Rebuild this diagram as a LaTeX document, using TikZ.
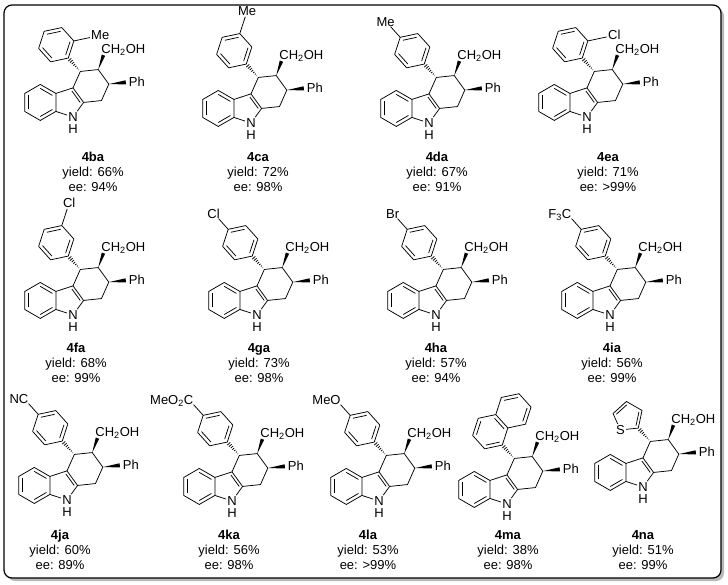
\documentclass[tikz,border=0pt]{standalone}
\usepackage{fontspec}
\setmainfont{Liberation Sans}
\usetikzlibrary{calc}

\tikzset{
  atom/.style={font=\fontsize{13}{15}\selectfont, inner sep=1pt},
  capt/.style={font=\fontsize{13}{15}\selectfont, align=center}
}

\newcommand{\dbl}[3]{\draw ($(#1)!0.22!(#3)$) -- ($(#2)!0.22!(#3)$);}
\newcommand{\wdg}[2]{\fill (#1) -- ($(#2)!0.12!90:(#1)$) -- ($(#2)!0.12!-90:(#1)$) -- cycle;}
\newcommand{\hsh}[2]{\foreach \hs in {1,...,7}{%
  \coordinate (hp) at ($(#1)!\hs/8!(#2)$);
  \draw ($(hp)!{0.13*\hs/(8-\hs)}!90:(#2)$) -- ($(hp)!{0.13*\hs/(8-\hs)}!-90:(#2)$);}}

\newcommand{\core}{%
  \coordinate (b1) at (-1.817,1.809);
  \coordinate (b2) at (-0.951,1.309);
  \coordinate (b3) at (-0.951,0.309);
  \coordinate (b4) at (-1.817,-0.191);
  \coordinate (b5) at (-2.683,0.309);
  \coordinate (b6) at (-2.683,1.309);
  \coordinate (bc) at (-1.817,0.809);
  \coordinate (pc) at (-0.263,0.809);
  \coordinate (c9a) at (0.588,0.809);
  \coordinate (c4a) at (0,1.618);
  \coordinate (c1) at (1.583,0.914);
  \coordinate (c2) at (1.989,1.827);
  \coordinate (c3) at (1.402,2.636);
  \coordinate (c4) at (0.407,2.531);
  \node[atom] (n) at (0,0) {N};
  \node[atom] (h) at (0,-0.68) {H};
  \draw (b1) -- (b2) -- (b3) -- (b4) -- (b5) -- (b6) -- cycle;
  \draw (c4a) -- (c4) -- (c3) -- (c2) -- (c1) -- (c9a) -- cycle;
  \draw (b2) -- (c4a);
  \draw (b3) -- (n) -- (c9a);
  \dbl{b1}{b2}{bc}\dbl{b3}{b4}{bc}\dbl{b5}{b6}{bc}\dbl{c4a}{c9a}{pc}
  \coordinate (we) at ($(c3)+(70:0.85)$);
  \wdg{c3}{we}
  \node[atom,anchor=base west,inner sep=0pt,xshift=-4.7pt,yshift=-4.6pt] (oh) at ($(c3)+(70:1.22)$) {CH\textsubscript{2}OH};
  \coordinate (pw) at ($(c2)+(6:0.95)$);
  \wdg{c2}{pw}
  \node[atom,anchor=base west,inner sep=0pt,yshift=-4.6pt] (ph) at ($(c2)+(6:1.1)$) {Ph};}

\newcommand{\aryl}{%
  \coordinate (ac) at ($(c4)+(132:2)$);
  \foreach \i/\ang in {1/312,2/12,3/72,4/132,5/192,6/252}{\coordinate (a\i) at ($(ac)+(\ang:1)$);}
  \draw (a1) -- (a2) -- (a3) -- (a4) -- (a5) -- (a6) -- cycle;
  \dbl{a1}{a2}{ac}\dbl{a3}{a4}{ac}\dbl{a5}{a6}{ac}
  \hsh{c4}{a1}}

\newcommand{\naph}{%
  \coordinate (ac) at ($(c4)+(132:2)$);
  \coordinate (nc) at ($(ac)+(42:1.732)$);
  \foreach \i/\ang in {1/312,2/12,3/72,4/132,5/192,6/252}{\coordinate (a\i) at ($(ac)+(\ang:1)$);}
  \foreach \i/\ang in {1/312,2/12,3/72,4/132}{\coordinate (e\i) at ($(nc)+(\ang:1)$);}
  \draw (a1) -- (a2) -- (a3) -- (a4) -- (a5) -- (a6) -- cycle;
  \draw (a2) -- (e1) -- (e2) -- (e3) -- (e4) -- (a3);
  \dbl{a6}{a1}{ac}\dbl{a4}{a5}{ac}\dbl{a2}{a3}{ac}\dbl{e1}{e2}{nc}\dbl{e3}{e4}{nc}
  \hsh{c4}{a1}}

\newcommand{\thio}{%
  \coordinate (t2) at ($(c4)+(132:1)$);
  \coordinate (tc) at ($(t2)+(132:0.851)$);
  \foreach \i/\ang in {3/24,4/96,5/168}{\coordinate (t\i) at ($(tc)+(\ang:0.851)$);}
  \node[atom] (s) at ($(tc)+(240:0.851)$) {S};
  \draw (s) -- (t2) -- (t3) -- (t4) -- (t5) -- (s);
  \dbl{t2}{t3}{tc}\dbl{t4}{t5}{tc}
  \hsh{c4}{t2}}

\newcommand{\orthosub}[1]{\node[atom] (sub) at ($(a2)+(12:1.5)$) {#1}; \draw (a2) -- (sub);}
\newcommand{\metasub}[1]{\node[atom] (sub) at ($(a3)+(72:1.33)$) {#1}; \draw (a3) -- (sub);}
\newcommand{\parasub}[2]{\coordinate (pe) at ($(a4)+(132:0.8)$);
  \node[atom,anchor=base east,inner sep=0pt,xshift=#2,yshift=-4.6pt] (sub) at ($(a4)+(132:1.18)$) {#1};
  \draw (a4) -- (pe);}

\begin{document}
\begin{tikzpicture}[x=1pt,y=-1pt,line width=0.75pt,line join=round]
\useasboundingbox (0,0) rectangle (728,584);
\fill[gray!55,rounded corners=8pt] (7,8) rectangle (724,581);
\draw[line width=1.2pt,fill=white,rounded corners=8pt] (4,5) rectangle (721,578);

\begin{scope}[shift={(73,117)},x=18pt,y=18pt]
  \core \aryl \orthosub{Me}
\end{scope}
\begin{scope}[shift={(251,123)},x=18pt,y=18pt]
  \core \aryl \metasub{Me}
\end{scope}
\begin{scope}[shift={(429,123)},x=18pt,y=18pt]
  \core \aryl \parasub{Me}{9pt}
\end{scope}
\begin{scope}[shift={(587,117)},x=18pt,y=18pt]
  \core \aryl \orthosub{Cl}
\end{scope}

\begin{scope}[shift={(73,315)},x=18pt,y=18pt]
  \core \aryl \metasub{Cl}
\end{scope}
\begin{scope}[shift={(257,315)},x=18pt,y=18pt]
  \core \aryl \parasub{Cl}{6.1pt}
\end{scope}
\begin{scope}[shift={(436,315)},x=18pt,y=18pt]
  \core \aryl \parasub{Br}{6.5pt}
\end{scope}
\begin{scope}[shift={(610,315)},x=18pt,y=18pt]
  \core \aryl \parasub{F\textsubscript{3}C}{4.7pt}
\end{scope}

\begin{scope}[shift={(67,500)},x=18pt,y=18pt]
  \core \aryl \parasub{NC}{4.7pt}
\end{scope}
\begin{scope}[shift={(232,501)},x=18pt,y=18pt]
  \core \aryl \parasub{MeO\textsubscript{2}C}{4.7pt}
\end{scope}
\begin{scope}[shift={(379,501)},x=18pt,y=18pt]
  \core \aryl \parasub{MeO}{5pt}
\end{scope}
\begin{scope}[shift={(507,504)},x=18pt,y=18pt]
  \core \naph
\end{scope}
\begin{scope}[shift={(643,487)},x=18pt,y=18pt]
  \core \thio
\end{scope}

\node[capt] (k4ba) at (93,172) {\textbf{4ba}\\yield: 66\%\\ee: 94\%};
\node[capt] (k4ca) at (258,172) {\textbf{4ca}\\yield: 72\%\\ee: 98\%};
\node[capt] (k4da) at (437,172) {\textbf{4da}\\yield: 67\%\\ee: 91\%};
\node[capt] (k4ea) at (608,172) {\textbf{4ea}\\yield: 71\%\\ee: >99\%};
\node[capt] (k4fa) at (76,363) {\textbf{4fa}\\yield: 68\%\\ee: 99\%};
\node[capt] (k4ga) at (259,363) {\textbf{4ga}\\yield: 73\%\\ee: 98\%};
\node[capt] (k4ha) at (436,363) {\textbf{4ha}\\yield: 57\%\\ee: 94\%};
\node[capt] (k4ia) at (612,363) {\textbf{4ia}\\yield: 56\%\\ee: 99\%};
\node[capt] (k4ja) at (60,550) {\textbf{4ja}\\yield: 60\%\\ee: 89\%};
\node[capt] (k4ka) at (229,550) {\textbf{4ka}\\yield: 56\%\\ee: 98\%};
\node[capt] (k4la) at (368,550) {\textbf{4la}\\yield: 53\%\\ee: >99\%};
\node[capt] (k4ma) at (508,550) {\textbf{4ma}\\yield: 38\%\\ee: 98\%};
\node[capt] (k4na) at (643,550) {\textbf{4na}\\yield: 51\%\\ee: 99\%};
\end{tikzpicture}
\end{document}
